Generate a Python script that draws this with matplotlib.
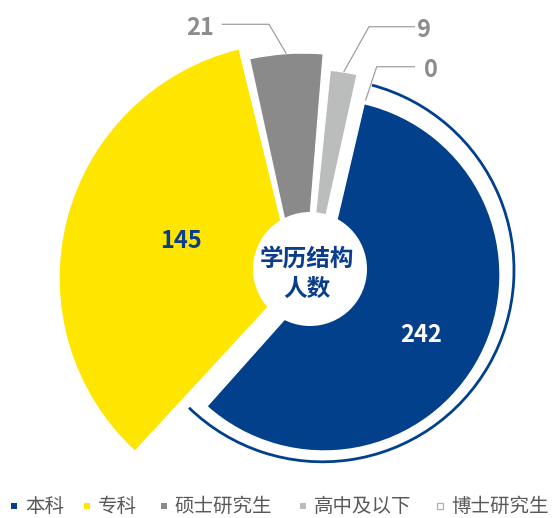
import numpy as np
import matplotlib.pyplot as plt
from matplotlib.patches import Wedge, Arc, Circle

plt.rcParams['font.family'] = ['Noto Sans CJK SC', 'DejaVu Sans']

# data
categories = ['本科', '专科', '硕士研究生', '高中及以下', '博士研究生']
counts = [242, 145, 21, 9, 0]
colors = ['#03408c', '#ffe600', '#8a8a8a', '#bbbcbc', '#ffffff']
title_lines = ['学历结构', '人数']

# layout, in pixels with y pointing up
W, H = 555, 518
start_angle = 77
pad = [0.2, 0.8, 0.6, 0.6, 0.0]
slice_centers = [(324, 243), (295, 240), (303, 214), (306, 211), (325, 242)]
slice_radii = [176, 236, 251, 238, 180]
inside_labels = {0: (421, 176.3, 'white'), 1: (181.3, 270.3, '#0a3d8a')}
outside_labels = {2: ((269, 493.7), 221.7, 214, 'right'),
                  3: ((369, 491.3), 415, 416.5, 'left'),
                  4: ((376.7, 451.3), 415, 424, 'left')}
legend_x = [14, 86.7, 163.7, 302.5, 440]
legend_y = 12

fig = plt.figure(figsize=(5.55, 5.18), dpi=100)
ax = fig.add_axes([0, 0, 1, 1])
ax.set_xlim(0, W)
ax.set_ylim(0, H)
ax.axis('off')

# slice angles, clockwise from start_angle
total = sum(counts)
spans = np.array(counts) / total * 360
ends = start_angle - np.cumsum(spans)
starts = ends + spans
mids = (starts + ends) / 2

# draw the wedges, largest value on top
for i in [1, 2, 3, 0]:
    if counts[i] == 0:
        continue
    w = Wedge(slice_centers[i], slice_radii[i], ends[i] + pad[i], starts[i] - pad[i],
              facecolor=colors[i], edgecolor='white', linewidth=1.0)
    ax.add_patch(w)

# outline arc around 本科
ax.add_patch(Arc((322.4, 247.8), 2 * 191.6, 2 * 191.6, theta1=ends[0] - 2.2,
                 theta2=starts[0] - 2, color=colors[0], linewidth=2.0))

# centre disc and title
ax.add_patch(Circle((310, 249), 57, facecolor='white', edgecolor='none', zorder=5))
ax.text(307, 259.7, title_lines[0], ha='center', va='center', fontsize=17,
        fontweight='bold', color='#0a3d8a', zorder=6)
ax.text(307, 228.7, title_lines[1], ha='center', va='center', fontsize=17,
        fontweight='bold', color='#0a3d8a', zorder=6)

# value labels inside
for i, (x, y, c) in inside_labels.items():
    ax.text(x, y, str(counts[i]), ha='center', va='baseline', fontsize=17,
            fontweight='bold', color=c, zorder=6)

# value labels outside with leader lines
for i, (elbow, x_end, x_txt, side) in outside_labels.items():
    a = np.radians(mids[i])
    cx, cy = slice_centers[i]
    x0 = cx + slice_radii[i] * np.cos(a)
    y0 = cy + slice_radii[i] * np.sin(a)
    ax.plot([x0, elbow[0], x_end], [y0, elbow[1], elbow[1]], color='#a0a0a0',
            linewidth=0.9, solid_capstyle='butt')
    ax.text(x_txt, elbow[1] - 10.5, str(counts[i]), ha=side, va='baseline',
            fontsize=17, fontweight='bold', color='#8c8c8c')

# legend
for i, name in enumerate(categories):
    if counts[i] == 0:
        ax.plot(legend_x[i], legend_y, marker='s', markersize=4.3,
                markerfacecolor='white', markeredgecolor='#b0b0b0', markeredgewidth=0.9)
    else:
        ax.plot(legend_x[i], legend_y, marker='s', markersize=4.6,
                color=colors[i], markeredgewidth=0)
    ax.text(legend_x[i] + 11, legend_y, name, ha='left', va='center',
            fontsize=14, color='#595959')

fig.savefig('out.png', dpi=100)
